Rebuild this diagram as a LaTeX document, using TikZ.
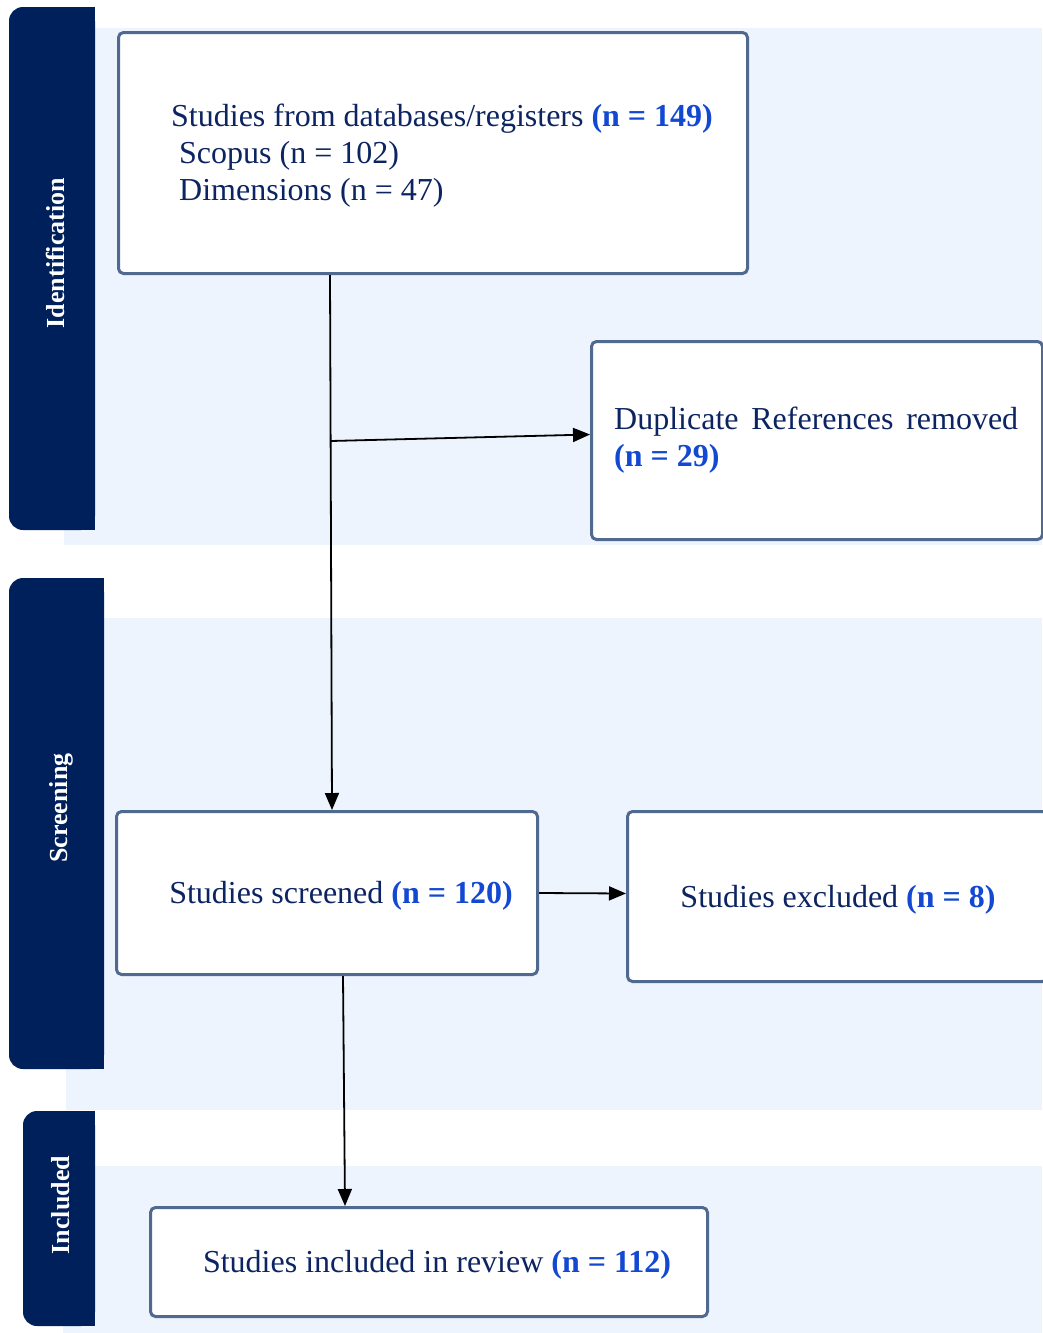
\documentclass[tikz,border=0pt]{standalone}
\usepackage{fontspec}
\setmainfont{Liberation Serif}
\usetikzlibrary{arrows.meta}
\definecolor{navybar}{HTML}{00205B}
\definecolor{bgblue}{HTML}{EDF4FE}
\definecolor{boxline}{HTML}{506A8F}
\definecolor{txtnavy}{HTML}{0C2461}
\definecolor{numblue}{HTML}{1248D2}
\newcommand{\nb}[1]{\textcolor{numblue}{\textbf{#1}}}
\tikzset{
  stagebox/.style={draw=boxline, line width=3pt, rounded corners=5pt, fill=white},
  boxtext/.style={text=txtnavy, font=\fontsize{32}{37}\selectfont, inner sep=0pt},
  barlabel/.style={text=white, font=\fontsize{26}{30}\selectfont\bfseries, rotate=90, inner sep=0pt},
  flow/.style={line width=1.8pt, -{Triangle[length=17pt,width=14pt]}}
}
\begin{document}
\begin{tikzpicture}[x=1pt,y=-1pt]
\useasboundingbox (0,0) rectangle (1042,1333);
% backgrounds
\fill[bgblue] (64,28) rectangle (1042,545);
\fill[bgblue] (66,618) rectangle (1042,1110);
\fill[bgblue] (63,1166) rectangle (1042,1333);
% bars
\fill[navybar, rounded corners=14pt] (9,7) rectangle (95,530);
\fill[navybar] (60,7) rectangle (95,530);
\fill[navybar, rounded corners=14pt] (9,578) rectangle (104,1069);
\fill[navybar] (60,578) rectangle (104,1069);
\fill[navybar, rounded corners=14pt] (23,1111) rectangle (95,1326);
\fill[navybar] (60,1111) rectangle (95,1326);
\node[barlabel] (lid) at (55,253) {Identification};
\node[barlabel] (lsc) at (61,808) {Screening};
\node[barlabel] (lin) at (61,1205) {Included};
% boxes
\node[stagebox, minimum width=629pt, minimum height=241pt, anchor=north west] (b1) at (117,31) {};
\node[boxtext, anchor=west, align=left] (t1) at (171,156) {Studies from databases/registers \nb{(n = 149)}\\\hspace{8pt}Scopus (n = 102)\\\hspace{8pt}Dimensions (n = 47)};
\node[stagebox, minimum width=451pt, minimum height=198pt, anchor=north west] (b2) at (590,340) {};
\node[boxtext, anchor=west, align=left] (t2) at (614,440) {\makebox[404pt][s]{Duplicate References removed}\\\nb{(n = 29)}};
\node[stagebox, minimum width=421pt, minimum height=163pt, anchor=north west] (b3) at (115,810) {};
\node[boxtext] (t3) at (341,896) {Studies screened \nb{(n = 120)}};
\node[stagebox, minimum width=420pt, minimum height=170pt, anchor=north west] (b4) at (626,810) {};
\node[boxtext] (t4) at (838,900) {Studies excluded \nb{(n = 8)}};
\node[stagebox, minimum width=557pt, minimum height=109pt, anchor=north west] (b5) at (149,1206) {};
\node[boxtext] (t5) at (437,1265) {Studies included in review \nb{(n = 112)}};
% connectors
\coordinate (split) at (330.6,441);
\draw[flow] (b1.south -| 330,0) -- (b3.north -| 332,0);
\draw[flow] (split) -- ([yshift=6pt]b2.west);
\draw[flow] (b3.east) -- ([yshift=3pt]b4.west);
\draw[flow] (b3.south -| 343,0) -- (b5.north -| 345,0);
\end{tikzpicture}
\end{document}
